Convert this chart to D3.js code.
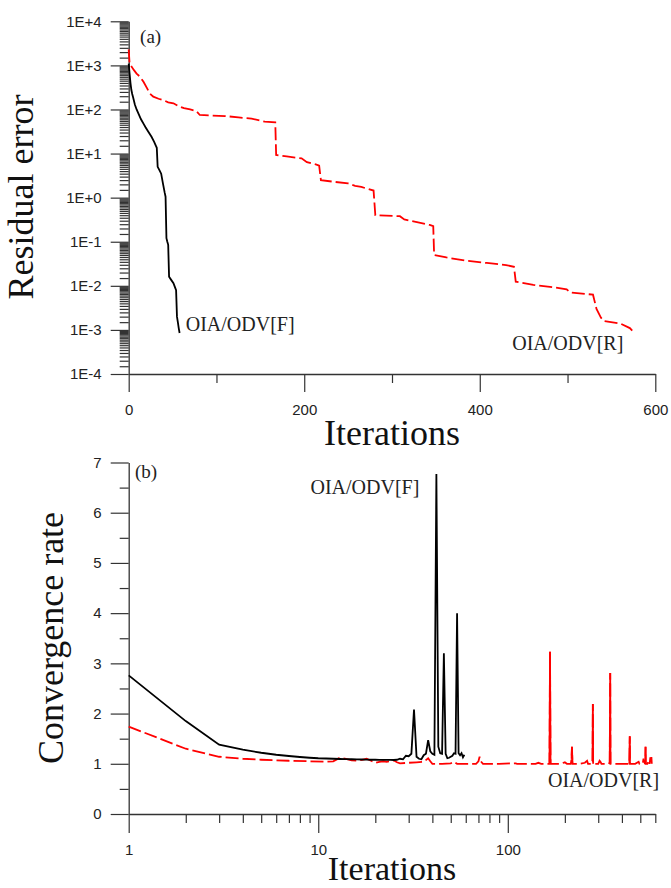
<!DOCTYPE html>
<html>
<head>
<meta charset="utf-8">
<script src="https://cdn.jsdelivr.net/npm/d3@7"></script>
<style>
  body { margin: 0; background: #fff; }
  svg { display: block; }
</style>
</head>
<body>
<svg width="671" height="888"></svg>
<script>
// ---- data ----
// (a) residual error vs iterations, [iteration, residual]
var resF = [[0,1100],[1,650],[2,400],[3,280],[4,225],[5,190],[7,130],[9,100],[11,82],[14,60],
  [17,47],[19,40],[22,32],[26,24],[29,18.5],[31,15],[32,13.5],[33,5.0],[35,4.2],[37,3.5],
  [39,2.1],[41,1.3],[42,1.05],[43,0.12],[44,0.10],[45,0.085],[46,0.016],[48,0.014],[51,0.0115],
  [53,0.009],[54,0.008],[55,0.002],[56,0.0015],[57,0.0011],[58,0.00085]];

var resR = [[0,2300],[1,1100],[3,950],[6,780],[9,650],[13,550],[17,420],[21,300],[24,230],[28,195],
  [34,175],[39,164],[45,145],[51,138],[57,118],[63,107],[70,100],[77,92],[81,75],[95,73],[110,71],
  [125,66],[140,62],[155,53],[167,51],[168,9.3],[180,8.6],[197,7.8],[203,6.4],[214,5.6],[217,5.3],
  [219,2.5],[233,2.3],[250,2.1],[258,1.85],[265,1.75],[279,1.45],[281,0.40],[309,0.38],[314,0.32],
  [343,0.24],[347,0.225],[348,0.050],[362,0.044],[385,0.037],[408,0.033],[430,0.0295],[439,0.027],
  [441,0.0124],[461,0.0105],[484,0.0093],[499,0.0083],[503,0.0071],[529,0.0063],[533,0.0030],
  [538,0.0019],[541,0.0016],[560,0.0014],[571,0.0011],[575,0.00090]];

// (b) convergence rate vs iterations, [iteration, rate]
var rateF = [[1,2.76],[2,1.85],[3,1.38],[4,1.28],[5,1.22],[6,1.18],[7,1.155],[8,1.135],[9,1.12],
  [10,1.11],[11,1.105],[12,1.1],[13,1.095],[14,1.092],[15,1.09],[16,1.088],[17,1.085],[18,1.083],
  [19,1.08],[20,1.08],[21,1.078],[22,1.077],[23,1.076],[24,1.076],[25,1.075],[26,1.08],[27,1.1],
  [28,1.09],[29,1.16],[30,1.15],[31,1.2],[32,2.08],[33,1.14],[34,1.1],[35,1.09],[36,1.17],[37,1.2],
  [38,1.47],[39,1.25],[40,1.2],[41,1.18],[42,6.77],[43,1.34],[44,1.21],[45,1.2],[46,3.2],[47,1.2],
  [48,1.11],[49,1.12],[50,1.14],[51,1.16],[52,1.21],[53,1.2],[54,4.0],[55,1.21],[56,1.17],
  [57,1.21],[58,1.13],[59,1.18]];

var rateR = [[1,1.74],[2,1.30],[3,1.14],[4,1.10],[5,1.08],[7,1.06],[9,1.05],[11,1.04],[12,1.05],
  [13,1.12],[14,1.1],[15,1.07],[16,1.06],[17,1.08],[18,1.1],[19,1.06],[20,1.02],[21,1.04],[22,1.05],
  [23,1.04],[24,1.05],[25,1.07],[26,1.03],[27,1.01],[30,1.02],[33,1.03],[36,1.04],[38,1.11],[39,1.05],
  [40,1.0],[45,1.0],[50,1.01],[52,1.04],[54,1.0],[60,1.0],[68,1.0],[70,1.05],[71,1.14],[72,1.05],
  [74,1.0],[90,1.0],[110,1.01],[112,1.0],[140,1.0],[145,1.02],[150,1.0],[165,1.0],[166,1.02],
  [167,3.23],[168,1.0],[170,1.0],[190,1.0],[200,1.03],[205,1.0],[215,1.0],[217,1.1],[218,1.34],
  [219,1.08],[220,1.0],[240,1.0],[255,1.02],[262,1.06],[265,1.0],[278,1.0],[280,1.05],[281,2.19],
  [282,1.0],[300,1.0],[305,1.06],[308,1.04],[312,1.0],[340,1.0],[345,1.03],[347,2.81],[348,1.0],
  [380,1.0],[420,1.0],[438,1.0],[440,1.55],[441,1.0],[470,1.0],[490,1.04],[495,1.0],[515,1.0],
  [520,1.1],[522,1.06],[530,1.0],[532,1.1],[533,1.34],[534,1.0],[545,1.0],[555,1.06],[560,1.0],
  [565,1.13],[568,1.05],[572,1.15],[575,1.0]];

// tick labels
var topXTicks = [0, 200, 400, 600];
var topXMinor = [100, 300, 500];
var topYTicks = [1e-4, 1e-3, 1e-2, 1e-1, 1e0, 1e1, 1e2, 1e3, 1e4];
var botXTicks = [1, 10, 100];
var botYTicks = [0, 1, 2, 3, 4, 5, 6, 7];

// annotation positions in data units
var labelsTop = [{t: '(a)', x: 13, y: 3200, s: 19}, {t: 'OIA/ODV[F]', x: 65, y: 0.00096, s: 20},
                 {t: 'OIA/ODV[R]', x: 437, y: 0.00035, s: 20}];
var labelsBot = [{t: '(b)', x: 1.08, y: 6.7, s: 19}, {t: 'OIA/ODV[F]', x: 9.1, y: 6.37, s: 20},
                 {t: 'OIA/ODV[R]', x: 163, y: 0.54, s: 20}];

// ---- scales ----
var svg = d3.select('svg');
var sans = 'Liberation Sans, Arial, sans-serif';
var serif = 'Liberation Serif, Times New Roman, serif';
var axisCol = '#333';

var xTop = d3.scaleLinear().domain([0, 600]).range([128.7, 655.3]);
var yTop = d3.scaleLog().domain([1e-4, 1e4]).range([374, 21.3]);
var xBot = d3.scaleLog().domain([1, 600]).range([128.7, 655.3]);
var yBot = d3.scaleLinear().domain([0, 7]).range([814, 462.5]);

// minor log ticks at half steps inside each decade
var topYMinor = [];
topYTicks.slice(0, -1).forEach(function(p) {
  for (var k = 1.5; k < 10; k += 0.5) topYMinor.push(k * p);
});
var botXMinor = [];
[1, 10, 100].forEach(function(p) {
  for (var k = 2; k < 10; k++) if (k * p <= 600) botXMinor.push(k * p);
});
var botYMinor = d3.range(0.5, 7, 1);

function fmtE(d) {
  var e = Math.round(Math.log10(d));
  return '1E' + (e >= 0 ? '+' : '-') + Math.abs(e);
}

function styleAxis(g, keepDomain) {
  g.selectAll('line').attr('stroke', axisCol).attr('stroke-width', 1.2);
  g.select('.domain').attr('stroke', axisCol).attr('stroke-width', 1.3);
  if (!keepDomain) g.select('.domain').remove();
  g.selectAll('text').attr('fill', '#222').style('font-family', sans).style('font-size', '15px');
}

// ---- panel (a) ----
svg.append('g').attr('transform', 'translate(128.7,0)')
  .call(d3.axisLeft(yTop).tickValues(topYMinor).tickSize(9).tickFormat(''))
  .call(styleAxis, false);
svg.append('g').attr('transform', 'translate(128.7,0)')
  .call(d3.axisLeft(yTop).tickValues(topYTicks).tickSize(18).tickSizeOuter(0).tickPadding(9).tickFormat(fmtE))
  .call(styleAxis, true);
svg.append('g').attr('transform', 'translate(0,374)')
  .call(d3.axisBottom(xTop).tickValues(topXMinor).tickSize(9).tickFormat(''))
  .call(styleAxis, false);
svg.append('g').attr('transform', 'translate(0,374)')
  .call(d3.axisBottom(xTop).tickValues(topXTicks).tickSize(18).tickSizeOuter(0).tickPadding(12))
  .call(styleAxis, true);

var lineTop = d3.line().x(d => xTop(d[0])).y(d => yTop(d[1]));

svg.append('path').datum(resR).attr('d', lineTop)
  .attr('fill', 'none').attr('stroke', '#ff0000').attr('stroke-width', 1.8)
  .attr('stroke-dasharray', '13,4');
svg.append('path').datum(resF).attr('d', lineTop)
  .attr('fill', 'none').attr('stroke', '#000').attr('stroke-width', 1.8);

labelsTop.forEach(function(l) {
  svg.append('text').attr('x', xTop(l.x)).attr('y', yTop(l.y))
    .style('font-family', serif).style('font-size', l.s + 'px').attr('fill', '#222').text(l.t);
});

svg.append('text').attr('transform', 'translate(33,197) rotate(-90)')
  .attr('text-anchor', 'middle').style('font-family', serif).style('font-size', '36px')
  .attr('fill', '#111').text('Residual error');
svg.append('text').attr('x', 392).attr('y', 445)
  .attr('text-anchor', 'middle').style('font-family', serif).style('font-size', '36px')
  .attr('fill', '#111').text('Iterations');

// ---- panel (b) ----
svg.append('g').attr('transform', 'translate(128.7,0)')
  .call(d3.axisLeft(yBot).tickValues(botYMinor).tickSize(9).tickFormat(''))
  .call(styleAxis, false);
svg.append('g').attr('transform', 'translate(128.7,0)')
  .call(d3.axisLeft(yBot).tickValues(botYTicks).tickSize(18).tickSizeOuter(0).tickPadding(9).tickFormat(d3.format('d')))
  .call(styleAxis, true);
svg.append('g').attr('transform', 'translate(0,814)')
  .call(d3.axisBottom(xBot).tickValues(botXMinor).tickSize(9).tickFormat(''))
  .call(styleAxis, false);
svg.append('g').attr('transform', 'translate(0,814)')
  .call(d3.axisBottom(xBot).tickValues(botXTicks).tickSize(19).tickSizeOuter(0).tickPadding(11).tickFormat(d3.format('d')))
  .call(styleAxis, true);

var lineBot = d3.line().x(d => xBot(d[0])).y(d => yBot(d[1]));

svg.append('path').datum(rateR).attr('d', lineBot)
  .attr('fill', 'none').attr('stroke', '#ff0000').attr('stroke-width', 1.8)
  .attr('stroke-dasharray', '13,4');
// the tall spikes show as solid strokes in the original
rateR.forEach(function(d, i) {
  if (d[0] > 100 && d[1] > 1.2) {
    svg.append('path').datum(rateR.slice(i - 1, i + 2)).attr('d', lineBot)
      .attr('fill', 'none').attr('stroke', '#ff0000').attr('stroke-width', 1.8);
  }
});
svg.append('path').datum(rateF).attr('d', lineBot)
  .attr('fill', 'none').attr('stroke', '#000').attr('stroke-width', 1.8);

labelsBot.forEach(function(l) {
  svg.append('text').attr('x', xBot(l.x)).attr('y', yBot(l.y))
    .style('font-family', serif).style('font-size', l.s + 'px').attr('fill', '#222').text(l.t);
});

svg.append('text').attr('transform', 'translate(63,638) rotate(-90)')
  .attr('text-anchor', 'middle').style('font-family', serif).style('font-size', '36px')
  .attr('fill', '#111').text('Convergence rate');
svg.append('text').attr('x', 392).attr('y', 880)
  .attr('text-anchor', 'middle').style('font-family', serif).style('font-size', '34px')
  .attr('fill', '#111').text('Iterations');
</script>
</body>
</html>
